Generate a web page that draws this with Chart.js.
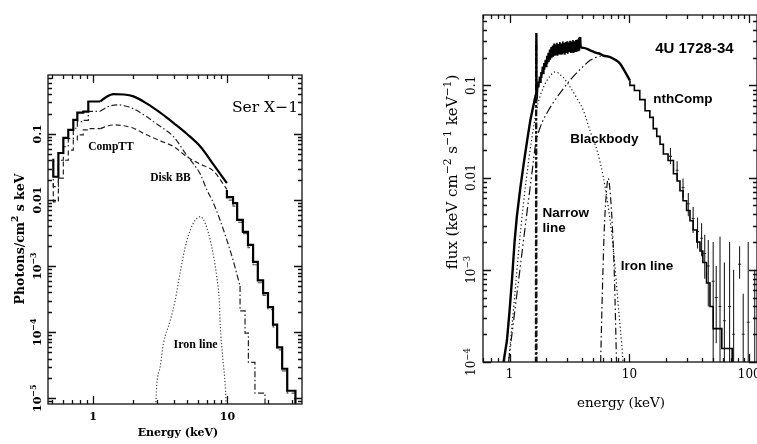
<!DOCTYPE html>
<html>
<head>
<meta charset="utf-8">
<script src="https://cdn.jsdelivr.net/npm/chart.js@4.4.0/dist/chart.umd.min.js"></script>
<style>
  body { margin: 0; background: #fff; width: 757px; height: 444px; overflow: hidden; position: relative; }
  canvas { position: absolute; top: 0; }
</style>
</head>
<body>
<canvas id="serx" width="378" height="444" style="left:0"></canvas>
<canvas id="u1728" width="380" height="444" style="left:378px"></canvas>
<script>
// ---------- Ser X-1 (left panel) ----------
// low-energy bins: edges and the flux in each bin
const serBinEdge = [0.507, 0.553, 0.602, 0.655, 0.714, 0.765, 0.847, 0.923, 1.005, 1.133];
const serTotLow  = [0.042, 0.0225, 0.0515, 0.087, 0.115, 0.163, 0.21, 0.218, 0.31];
const serDiskLow = [0.028, 0.016, 0.040, 0.064, 0.085, 0.122, 0.154, 0.16, 0.22];
const serCompLow = [0.018, 0.0094, 0.0215, 0.040, 0.057, 0.081, 0.097, 0.115, 0.12];

// fine-binned middle part
const serTotMidE  = [1.133, 1.25, 1.42, 1.7, 2.0, 2.5, 3.16, 4.0, 5.0, 6.3, 7.9, 9.9];
const serTotMidF  = [0.31, 0.36, 0.40, 0.395, 0.37, 0.29, 0.21, 0.145, 0.10, 0.064, 0.034, 0.018];
const serDiskMidE = [1.133, 1.3, 1.55, 1.8, 2.0, 2.5, 3.0, 3.97, 5.0, 5.6, 6.26, 7.0, 7.86, 8.8, 9.88, 11.0, 12.4];
const serDiskMidF = [0.22, 0.26, 0.275, 0.26, 0.24, 0.183, 0.14, 0.091, 0.047, 0.035, 0.025, 0.0145, 0.009, 0.005, 0.0025, 0.00123, 0.0005];
const serCompMidE = [1.133, 1.3, 1.45, 1.7, 2.0, 2.5, 3.2, 4.0, 5.0, 6.26, 7.86, 9.9];
const serCompMidF = [0.12, 0.133, 0.137, 0.133, 0.122, 0.097, 0.078, 0.064, 0.045, 0.035, 0.0275, 0.0145];

// high-energy bins
const serTailEdge = [9.9, 11.0, 11.8, 13.0, 14.2, 15.5, 16.8, 18.4, 20.0, 21.8, 23.4, 25.5, 27.8, 30.2, 32.0];
const serTotTail  = [0.0142, 0.0111, 0.009, 0.005, 0.0033, 0.0021, 0.00116, 0.00061, 0.00039, 0.00024, 0.00013, 0.000059, 0.000028, 0.000013];
const serCompTail = [0.0125, 0.0100, 0.0081, 0.0046, 0.0031, 0.0019, 0.00105, 0.00056, 0.00036, 0.00022, 0.00012, 0.000054, 0.000026, 0.000012];
const serDiskTailEdge = [12.4, 13.5, 14.3, 16.0, 17.4, 19.0];
const serDiskTail     = [0.0005, 0.00021, 0.000097, 0.000035, 0.000012];

// iron line
const serFeE = [2.9, 2.98, 3.16, 3.34, 3.75, 4.08, 4.44, 4.84, 5.43, 6.26, 6.82, 7.64, 8.32, 8.71, 8.8, 9.3, 9.6, 9.9];
const serFeF = [5e-6, 1.6e-5, 3e-5, 6.7e-5, 1.5e-4, 3e-4, 7.9e-4, 1.9e-3, 4e-3, 5.6e-3, 4.5e-3, 1.95e-3, 6.9e-4, 2.7e-4, 1.5e-4, 3.4e-5, 1.7e-5, 5e-6];

const serXTicks = [1, 10];
const serXLabels = ['1', '10'];
const serYTicks = [1e-5, 1e-4, 1e-3, 0.01, 0.1];
const serYLabels = [['10', '\u22125'], ['10', '\u22124'], ['10', '\u22123'], ['0.01'], ['0.1']];

// ---------- 4U 1728-34 (right panel) ----------
// data: steep rise and the narrow line spike
const uRiseE = [0.87, 0.89, 0.95, 1.0, 1.05, 1.1, 1.15, 1.23, 1.32, 1.4, 1.49, 1.58, 1.65, 1.662, 1.667, 1.672, 1.68];
const uRiseF = [5e-5, 1e-4, 1.7e-4, 3.6e-4, 8.2e-4, 2e-3, 3.8e-3, 7.8e-3, 0.015, 0.025, 0.042, 0.06, 0.078, 0.08, 0.37, 0.085, 0.09];
// noisy, densely sampled data 1.7-3.9 keV
const uBandE = [1.68, 1.704, 1.727, 1.751, 1.776, 1.801, 1.826, 1.852, 1.878, 1.904, 1.931, 1.958, 1.986, 2.014, 2.042,
  2.071, 2.100, 2.129, 2.159, 2.190, 2.221, 2.252, 2.284, 2.316, 2.348, 2.381, 2.415, 2.449, 2.483, 2.518, 2.554,
  2.590, 2.626, 2.663, 2.701, 2.739, 2.777, 2.816, 2.856, 2.896, 2.937, 2.978, 3.020, 3.062, 3.105, 3.149, 3.193,
  3.238, 3.284, 3.330, 3.377, 3.424, 3.472, 3.521, 3.571, 3.621, 3.672, 3.724, 3.776, 3.829, 3.88];
const uBandF = [0.09, 0.08, 0.11, 0.095, 0.125, 0.108, 0.14, 0.12, 0.16, 0.135, 0.175, 0.148, 0.19, 0.16, 0.21,
  0.172, 0.225, 0.18, 0.245, 0.19, 0.26, 0.2, 0.27, 0.205, 0.285, 0.21, 0.275, 0.215, 0.29, 0.21, 0.28,
  0.22, 0.295, 0.215, 0.285, 0.22, 0.3, 0.225, 0.29, 0.215, 0.295, 0.225, 0.3, 0.22, 0.29, 0.23, 0.305,
  0.225, 0.295, 0.23, 0.31, 0.225, 0.3, 0.235, 0.31, 0.23, 0.315, 0.24, 0.33, 0.24, 0.335];
const uMidE = [3.88, 3.92, 4.14, 4.7, 5.3, 5.7, 6.07, 6.9, 7.6, 8.36, 9.2, 10.1];
const uMidF = [0.335, 0.26, 0.255, 0.24, 0.225, 0.22, 0.21, 0.203, 0.19, 0.172, 0.14, 0.113];
const uTailEdge = [10.1, 11.0, 12.2, 13.5, 14.8, 15.8, 16.9, 18.0, 19.2, 21.0, 23.3, 25.0, 26.4, 28.0, 30.0, 32.0, 34.0, 36.5, 38.8, 41.0, 44.0, 47.0, 50.0, 59.0, 65.0, 72.0];
const uTailF = [0.113, 0.10, 0.088, 0.07, 0.053, 0.045, 0.034, 0.028, 0.023, 0.018, 0.0153, 0.011, 0.0092, 0.0072, 0.0056, 0.0044, 0.0034, 0.0027, 0.002, 0.0016, 0.0012, 7.2e-4, 4e-4, 2.3e-4, 1.4e-4];

// high-energy data points with error bars
const uErrE  = [22, 25, 28, 31, 34, 37, 40, 42.5, 45.5, 50, 53, 57, 62, 68.5, 74, 83, 89, 98, 111];
const uErrF  = [0.017, 0.012, 0.0078, 0.0052, 0.0036, 0.0026, 0.0022, 0.0015, 0.0011, 7.5e-4, 5e-4, 4e-4, 2.8e-4, 4e-4, 2e-4, 1.15e-3, 2e-4, 2.7e-4, 3e-4];
const uErrLo = [0.014, 0.0095, 0.006, 0.0038, 0.0025, 0.0017, 0.0014, 8e-4, 4e-4, 1e-5, 1.6e-4, 1e-5, 1e-5, 1e-5, 1e-5, 8e-4, 1e-5, 1e-5, 1e-5];
const uErrHi = [0.021, 0.015, 0.0098, 0.0068, 0.0048, 0.0037, 0.0032, 0.0024, 0.0021, 2e-3, 1.1e-3, 2.3e-3, 1.2e-3, 2e-3, 1e-3, 1.8e-3, 5.5e-4, 2e-3, 1e-3];

// model components
const uBbE  = [0.98, 1.1, 1.19, 1.3, 1.45, 1.6, 1.75, 1.95, 2.15, 2.4, 2.8, 3.2, 3.7, 4.14, 4.7, 5.38, 6.03, 6.64, 7.31, 8.02, 8.84, 9.3];
const uBbF  = [1e-4, 5e-4, 1.6e-3, 5e-3, 0.016, 0.038, 0.068, 0.1, 0.124, 0.14, 0.122, 0.096, 0.07, 0.053, 0.032, 0.0195, 0.0104, 0.0049, 0.0018, 0.00045, 0.0001, 0.00003];
const uNthE = [0.98, 1.1, 1.25, 1.4, 1.55, 1.64, 1.8, 2.1, 2.48, 3.2, 4.0, 4.7, 5.5, 6.3, 7.0];
const uNthF = [1e-4, 3.4e-4, 1.3e-3, 4.3e-3, 0.0123, 0.022, 0.035, 0.053, 0.074, 0.114, 0.155, 0.187, 0.205, 0.21, 0.2];
const uNarE = [1.655, 1.667, 1.679];
const uNarF = [1e-5, 0.30, 1e-5];
const uFeE  = [5.75, 5.95, 6.15, 6.4, 6.65, 6.9, 7.2, 7.5, 7.8];
const uFeF  = [1e-4, 6e-4, 2.5e-3, 6.5e-3, 9.8e-3, 7e-3, 3e-3, 8e-4, 1e-4];

const uXTicks = [1, 10, 100];
const uXLabels = ['1', '10', '100'];
const uYTicks = [1e-4, 1e-3, 0.01, 0.1];
const uYLabels = [['10', '\u22124'], ['10', '\u22123'], ['0.01'], ['0.1']];

// ---------- helpers ----------
const pts = (E, F) => E.map((e, i) => ({ x: e, y: F[i] }));
// histogram: value i holds from edge i to edge i+1, then drop to floor
const steps = (edges, vals, floor) => {
  const p = edges.map((e, i) => ({ x: e, y: vals[Math.min(i, vals.length - 1)] }));
  if (floor) p.push({ x: edges[edges.length - 1], y: floor });
  return p;
};
const errBars = (E, F, lo, hi) => {
  const p = [];
  const k = Math.pow(10, 0.012);
  E.forEach((e, i) => {
    p.push({ x: e, y: lo[i] }, { x: e, y: hi[i] }, { x: e, y: null });
    p.push({ x: e / k, y: F[i] }, { x: e * k, y: F[i] }, { x: e, y: null });
  });
  return p;
};
const line = (data, opts) => Object.assign({
  data, borderColor: '#000', borderWidth: 1.2, pointRadius: 0, fill: false, spanGaps: false
}, opts);

function logTicks(min, max) {
  const out = [];
  for (let n = Math.floor(Math.log10(min)); n <= Math.ceil(Math.log10(max)); n++) {
    for (let m = 1; m <= 9; m++) {
      const v = m * Math.pow(10, n);
      if (v >= min && v <= max) out.push({ v, major: m === 1 });
    }
  }
  return out;
}

// text with superscript pieces: parts = [[text, isSup], ...], centred on x
function rich(ctx, parts, x, y, size, family, weight) {
  const font = (s) => `${weight || 'normal'} ${s}px ${family}`;
  let w = 0;
  parts.forEach(p => { ctx.font = font(p[1] ? size * 0.72 : size); w += ctx.measureText(p[0]).width; });
  let cx = x - w / 2;
  ctx.textAlign = 'left';
  ctx.textBaseline = 'alphabetic';
  parts.forEach(p => {
    ctx.font = font(p[1] ? size * 0.72 : size);
    ctx.fillText(p[0], cx, p[1] ? y - size * 0.42 : y);
    cx += ctx.measureText(p[0]).width;
  });
}

function framePlugin(cfg) {
  return {
    id: 'frame',
    afterDatasetsDraw(chart) {
      const { ctx, chartArea: a, scales: { x, y } } = chart;
      const fam = '"DejaVu Serif"', wt = cfg.weight || 'normal';
      ctx.save();
      ctx.strokeStyle = '#111';
      ctx.fillStyle = '#000';
      ctx.lineWidth = 1.3;
      ctx.strokeRect(a.left, a.top, a.right - a.left, a.bottom - a.top);
      ctx.beginPath();
      logTicks(x.min, x.max).forEach(t => {
        const px = Math.round(x.getPixelForValue(t.v)) + 0.5, len = t.major ? 8 : 4;
        ctx.moveTo(px, a.bottom); ctx.lineTo(px, a.bottom - len);
        ctx.moveTo(px, a.top); ctx.lineTo(px, a.top + len);
      });
      logTicks(y.min, y.max).forEach(t => {
        const py = Math.round(y.getPixelForValue(t.v)) + 0.5, len = t.major ? 8 : 4;
        ctx.moveTo(a.left, py); ctx.lineTo(a.left + len, py);
        ctx.moveTo(a.right, py); ctx.lineTo(a.right - len, py);
      });
      ctx.stroke();

      // tick labels
      ctx.textAlign = 'center';
      ctx.textBaseline = 'middle';
      ctx.font = `${wt} ${cfg.tickSize}px ${fam}`;
      cfg.xTicks.forEach((v, i) => ctx.fillText(cfg.xLabels[i], x.getPixelForValue(v), cfg.xLabelY));
      cfg.yTicks.forEach((v, i) => {
        ctx.save();
        ctx.translate(cfg.yLabelX, y.getPixelForValue(v));
        ctx.rotate(-Math.PI / 2);
        const lab = cfg.yLabels[i];
        const parts = lab.length > 1 ? [[lab[0], 0], [lab[1], 1]] : [[lab[0], 0]];
        rich(ctx, parts, 0, cfg.tickSize * 0.36, cfg.tickSize, fam, wt);
        ctx.restore();
      });

      // axis titles
      ctx.textAlign = 'center';
      ctx.textBaseline = 'middle';
      ctx.font = `${wt} ${cfg.titleSize}px ${fam}`;
      ctx.fillText(cfg.xTitle, cfg.xTitlePos[0], cfg.xTitlePos[1]);
      ctx.save();
      ctx.translate(cfg.yTitlePos[0], cfg.yTitlePos[1]);
      ctx.rotate(-Math.PI / 2);
      rich(ctx, cfg.yTitle, 0, cfg.yTitleSize * 0.36, cfg.yTitleSize, fam, wt);
      ctx.restore();

      // annotations placed in data coordinates
      ctx.textAlign = 'left';
      ctx.textBaseline = 'middle';
      cfg.notes.forEach(n => {
        ctx.font = n.font;
        ctx.fillText(n.text, x.getPixelForValue(n.e), y.getPixelForValue(n.f));
      });
      ctx.restore();
    }
  };
}

function makeChart(id, datasets, range, pad, cfg) {
  return new Chart(document.getElementById(id), {
    type: 'line',
    data: { datasets },
    options: {
      responsive: false,
      animation: false,
      layout: { padding: pad },
      plugins: { legend: { display: false }, tooltip: { enabled: false } },
      scales: {
        x: { type: 'logarithmic', min: range[0], max: range[1], display: false },
        y: { type: 'logarithmic', min: range[2], max: range[3], display: false }
      }
    },
    plugins: [framePlugin(cfg)]
  });
}

// ---------- left chart ----------
const smooth = { cubicInterpolationMode: 'monotone' };
makeChart('serx', [
  line(steps(serBinEdge, serTotLow), { borderWidth: 2.2, stepped: 'after' }),
  line(pts(serTotMidE, serTotMidF), Object.assign({ borderWidth: 2.2 }, smooth)),
  line(steps(serTailEdge, serTotTail, 1e-7), { borderWidth: 2.2, stepped: 'after' }),
  line(steps(serBinEdge, serDiskLow), { borderColor: '#222', borderDash: [6, 2.5, 1.5, 2.5], stepped: 'after' }),
  line(pts(serDiskMidE, serDiskMidF), Object.assign({ borderColor: '#222', borderDash: [6, 2.5, 1.5, 2.5] }, smooth)),
  line(steps(serDiskTailEdge, serDiskTail, 1e-7), { borderColor: '#222', borderDash: [6, 2.5, 1.5, 2.5], stepped: 'after' }),
  line(steps(serBinEdge, serCompLow), { borderColor: '#222', borderDash: [5, 3], stepped: 'after' }),
  line(pts(serCompMidE, serCompMidF), Object.assign({ borderColor: '#222', borderDash: [5, 3] }, smooth)),
  line(steps(serTailEdge, serCompTail, 1e-7), { borderColor: '#555', borderDash: [5, 3], stepped: 'after' }),
  line(pts(serFeE, serFeF), Object.assign({ borderColor: '#444', borderDash: [1.2, 2] }, smooth))
], [0.463, 35.8, 8.2e-6, 0.78], { left: 48, right: 76, top: 75, bottom: 40 }, {
  weight: 'bold', tickSize: 11, titleSize: 11, yTitleSize: 12.5,
  xTicks: serXTicks, xLabels: serXLabels, xLabelY: 417,
  yTicks: serYTicks, yLabels: serYLabels, yLabelX: 37,
  xTitle: 'Energy (keV)', xTitlePos: [178, 433],
  yTitle: [['Photons/cm', 0], ['2', 1], [' s keV', 0]], yTitlePos: [19, 239],
  notes: [
    { text: 'Ser X\u22121', e: 10.8, f: 0.248, font: '15.5px "DejaVu Serif"' },
    { text: 'CompTT', e: 0.923, f: 0.0636, font: 'bold 11.5px "Liberation Serif"' },
    { text: 'Disk BB', e: 2.66, f: 0.0216, font: 'bold 11.5px "Liberation Serif"' },
    { text: 'Iron line', e: 3.97, f: 6.5e-5, font: 'bold 12px "Liberation Serif"' }
  ]
});

// ---------- right chart ----------
makeChart('u1728', [
  line(pts(uRiseE, uRiseF), { borderWidth: 2.4 }),
  line(pts(uBandE, uBandF), { borderWidth: 1.6 }),
  line(pts(uMidE, uMidF), Object.assign({ borderWidth: 2.4 }, smooth)),
  line(steps(uTailEdge, uTailF, 1e-6), { borderWidth: 1.6, stepped: 'after' }),
  line(errBars(uErrE, uErrF, uErrLo, uErrHi), { borderWidth: 1.1, borderColor: '#222' }),
  line(pts(uNarE, uNarF), { borderWidth: 2.2, borderDash: [6, 2.5, 2, 2.5], borderColor: '#111' }),
  line(pts(uNthE, uNthF), Object.assign({ borderColor: '#111', borderDash: [9, 3, 1.5, 3, 1.5, 3] }, smooth)),
  line(pts(uBbE, uBbF), Object.assign({ borderColor: '#111', borderDash: [1.2, 2.5] }, smooth)),
  line(pts(uFeE, uFeF), Object.assign({ borderColor: '#111', borderDash: [7, 3, 1.5, 3] }, smooth))
], [0.6, 116, 1e-4, 0.58], { left: 105, right: 1, top: 15, bottom: 82 }, {
  tickSize: 12, titleSize: 13.5, yTitleSize: 15,
  xTicks: uXTicks, xLabels: uXLabels, xLabelY: 375,
  yTicks: uYTicks, yLabels: uYLabels, yLabelX: 93,
  xTitle: 'energy (keV)', xTitlePos: [243, 403],
  yTitle: [['flux (keV cm', 0], ['\u22122', 1], [' s', 0], ['\u22121', 1], [' keV', 0], ['\u22121', 1], [')', 0]], yTitlePos: [74, 172],
  notes: [
    { text: '4U 1728-34', e: 16.4, f: 0.251, font: 'bold 15px "Liberation Sans"' },
    { text: 'nthComp', e: 15.8, f: 0.0704, font: 'bold 13.5px "Liberation Sans"' },
    { text: 'Blackbody', e: 3.2, f: 0.026, font: 'bold 13.5px "Liberation Sans"' },
    { text: 'Narrow', e: 1.88, f: 4.15e-3, font: 'bold 13.5px "Liberation Sans"' },
    { text: 'line', e: 1.88, f: 2.85e-3, font: 'bold 13.5px "Liberation Sans"' },
    { text: 'Iron line', e: 8.48, f: 1.09e-3, font: 'bold 13.5px "Liberation Sans"' }
  ]
});
</script>
</body>
</html>
